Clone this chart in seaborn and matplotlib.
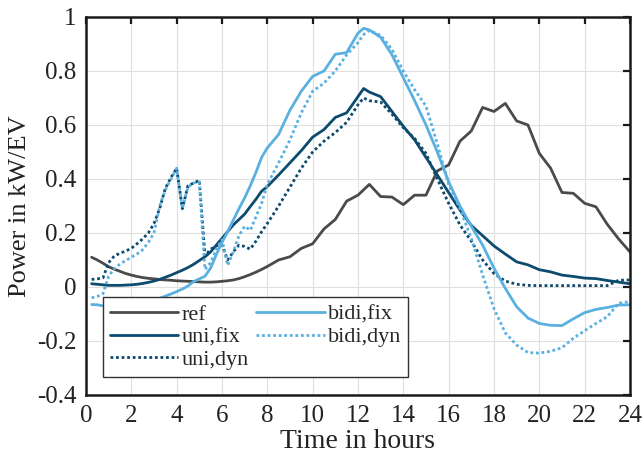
import numpy as np
import pandas as pd
import matplotlib
matplotlib.use("Agg")
import matplotlib.pyplot as plt
import seaborn as sns

# Time of day (hours)
hours = [0.25, 0.5, 0.75, 1.0, 1.25, 1.5, 1.75, 2.0, 2.25, 2.5, 2.75, 3.0,
         3.25, 3.5, 3.75, 4.0, 4.25, 4.5, 4.75, 5.0, 5.25, 5.5, 5.75, 6.0,
         6.25, 6.5, 6.75, 7.0, 7.25, 7.5, 7.75, 8.0,
         8.5, 9.0, 9.5, 10.0, 10.5, 11.0, 11.5, 12.0, 12.25, 12.5,
         13.0, 13.5, 14.0, 14.5, 15.0, 15.5, 16.0, 16.5, 17.0, 17.5, 18.0,
         18.5, 19.0, 19.5, 20.0, 20.5, 21.0, 21.5, 22.0, 22.5, 23.0, 23.5, 24.0]

# Average charging power per EV (kW/EV)
ref = [0.11, 0.10, 0.088, 0.075, 0.066, 0.058, 0.05, 0.044, 0.039, 0.035, 0.032, 0.03,
       0.028, 0.026, 0.025, 0.023, 0.022, 0.021, 0.02, 0.019, 0.018, 0.018, 0.019, 0.021,
       0.023, 0.026, 0.031, 0.038, 0.046, 0.055, 0.065, 0.076,
       0.10, 0.112, 0.143, 0.16, 0.215, 0.25, 0.318, 0.34, 0.36, 0.38,
       0.335, 0.333, 0.305, 0.34, 0.34, 0.43, 0.452, 0.54, 0.578, 0.665, 0.65,
       0.68, 0.615, 0.6, 0.495, 0.44, 0.35, 0.347, 0.31, 0.297, 0.232, 0.178, 0.13]

uni_fix = [0.012, 0.01, 0.008, 0.006, 0.006, 0.006, 0.007, 0.008, 0.01, 0.013, 0.017, 0.022,
           0.028, 0.036, 0.044, 0.053, 0.062, 0.072, 0.084, 0.098, 0.112, 0.13, 0.155, 0.18,
           0.205, 0.23, 0.25, 0.27, 0.298, 0.325, 0.355, 0.372,
           0.415, 0.46, 0.505, 0.555, 0.583, 0.628, 0.645, 0.705, 0.735, 0.722,
           0.705, 0.65, 0.595, 0.545, 0.48, 0.415, 0.35, 0.285, 0.228, 0.19, 0.152,
           0.122, 0.093, 0.082, 0.064, 0.056, 0.044, 0.039, 0.033, 0.031, 0.024, 0.018, 0.012]

uni_dyn = [0.028, 0.03, 0.034, 0.09, 0.115, 0.125, 0.133, 0.143, 0.16, 0.178, 0.2, 0.235,
           0.29, 0.365, 0.405, 0.44, 0.29, 0.375, 0.385, 0.395, 0.115, 0.14, 0.152, 0.156,
           0.10, 0.13, 0.155, 0.15, 0.14, 0.17, 0.205, 0.235,
           0.30, 0.37, 0.44, 0.50, 0.54, 0.572, 0.61, 0.675, 0.70, 0.69,
           0.685, 0.64, 0.59, 0.55, 0.495, 0.40, 0.31, 0.23, 0.17, 0.10, 0.05,
           0.022, 0.01, 0.006, 0.005, 0.005, 0.005, 0.005, 0.005, 0.005, 0.005, 0.025, 0.026]

bidi_fix = [-0.065, -0.066, -0.07, -0.072, -0.075, -0.077, -0.078, -0.076, -0.072, -0.066, -0.058, -0.05,
            -0.042, -0.034, -0.026, -0.017, -0.008, 0.004, 0.02, 0.03, 0.04, 0.07, 0.12, 0.165,
            0.205, 0.248, 0.29, 0.33, 0.375, 0.425, 0.48, 0.515,
            0.565, 0.655, 0.725, 0.78, 0.80, 0.862, 0.868, 0.94, 0.958, 0.952,
            0.925, 0.86, 0.775, 0.69, 0.60, 0.50, 0.39, 0.30, 0.225, 0.155, 0.07,
            -0.005, -0.073, -0.115, -0.135, -0.142, -0.143, -0.118, -0.095, -0.083, -0.076, -0.067, -0.066]

bidi_dyn = [-0.04, -0.035, -0.025, 0.04, 0.068, 0.085, 0.098, 0.11, 0.122, 0.138, 0.165, 0.2,
            0.3, 0.36, 0.40, 0.44, 0.29, 0.37, 0.385, 0.39, 0.065, 0.09, 0.14, 0.175,
            0.08, 0.13, 0.19, 0.225, 0.21, 0.26, 0.31, 0.38,
            0.46, 0.545, 0.645, 0.725, 0.755, 0.80, 0.86, 0.905, 0.935, 0.95,
            0.932, 0.88, 0.80, 0.73, 0.67, 0.53, 0.38, 0.29, 0.18, 0.045, -0.08,
            -0.17, -0.215, -0.243, -0.245, -0.238, -0.225, -0.19, -0.162, -0.135, -0.11, -0.06, -0.054]

series_names = ["ref", "uni,fix", "uni,dyn", "bidi,fix", "bidi,dyn"]
series_values = [ref, uni_fix, uni_dyn, bidi_fix, bidi_dyn]

x_ticks = list(range(0, 25, 2))
y_ticks = [-0.4, -0.2, 0, 0.2, 0.4, 0.6, 0.8, 1]
y_tick_labels = ["-0.4", "-0.2", "0", "0.2", "0.4", "0.6", "0.8", "1"]

df = pd.concat(
    [pd.DataFrame({"hour": hours, "power": vals, "case": name})
     for name, vals in zip(series_names, series_values)],
    ignore_index=True,
)

sns.set_theme(style="white")
plt.rcParams["font.family"] = ["Liberation Serif", "DejaVu Serif"]

DARK = "#4a4a4a"
NAVY = "#0c4a6e"
LIGHT = "#5ab0e0"
DOT = (0, (1, 1))
styles = {
    "ref": dict(color=DARK, linestyle="-"),
    "uni,fix": dict(color=NAVY, linestyle="-"),
    "uni,dyn": dict(color=NAVY, linestyle=DOT),
    "bidi,fix": dict(color=LIGHT, linestyle="-"),
    "bidi,dyn": dict(color=LIGHT, linestyle=DOT),
}

fig = plt.figure(figsize=(6.44, 4.58), dpi=100)
ax = fig.add_axes([0.1335, 0.1376, 0.8447, 0.8253])

for name in series_names:
    sub = df[df["case"] == name]
    sns.lineplot(data=sub, x="hour", y="power", ax=ax, label=name,
                 linewidth=2.0, estimator=None, sort=False, **styles[name])

ax.set_xlim(0, 24)
ax.set_ylim(-0.4, 1)
ax.set_xticks(x_ticks)
ax.set_xticklabels([str(t) for t in x_ticks])
ax.set_yticks(y_ticks)
ax.set_yticklabels(y_tick_labels)

ax.grid(True, color="#e0e0e0", linewidth=0.8)
ax.set_axisbelow(True)
for sp in ax.spines.values():
    sp.set_visible(True)
    sp.set_color("#1a1a1a")
    sp.set_linewidth(1.8)

ax.tick_params(axis="both", which="both", direction="in", length=5, width=1.6,
               top=True, right=True, labelsize=18, colors="#1a1a1a", pad=7)
ax.tick_params(axis="both", labelcolor="#222222")

ax.set_xlabel("Time in hours", fontsize=20, color="#222222", labelpad=2)
ax.set_ylabel("Power in kW/EV", fontsize=19, color="#222222", labelpad=4)

leg = ax.legend(loc="lower left", bbox_to_anchor=(0.031, 0.048), borderaxespad=0,
                ncol=2, fontsize=16, handlelength=3.1, handletextpad=0.15,
                columnspacing=0.3, labelspacing=0.1, borderpad=0.3,
                fancybox=False, framealpha=1, edgecolor="#333333")
leg.get_frame().set_linewidth(1.0)

fig.savefig("out.png", dpi=100, facecolor="white")
